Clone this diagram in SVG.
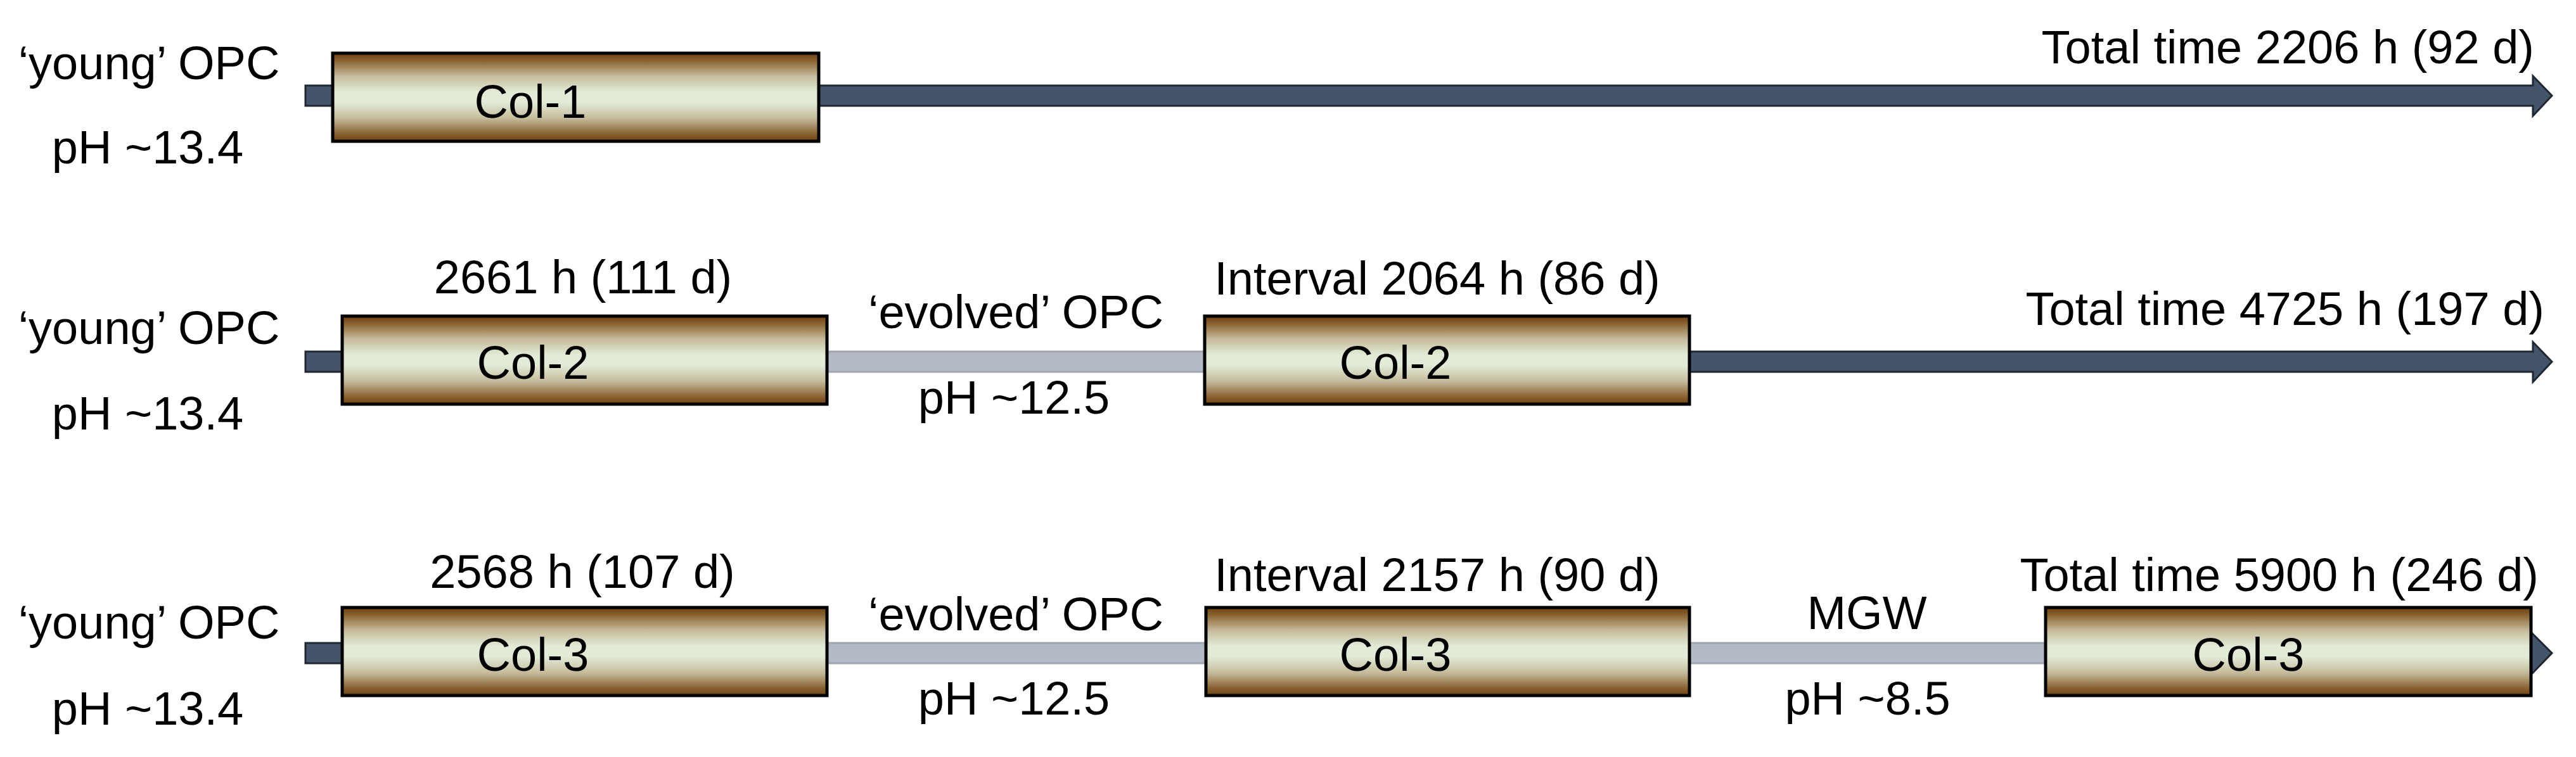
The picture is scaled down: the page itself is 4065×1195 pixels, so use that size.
<svg xmlns="http://www.w3.org/2000/svg" width="4065" height="1195" viewBox="0 0 4065 1195">
<defs>
<linearGradient id="colGrad" x1="0" y1="0" x2="0" y2="1">
<stop offset="0" stop-color="#6e4210"/>
<stop offset="0.08" stop-color="#87602e"/>
<stop offset="0.26" stop-color="#c6bb9b"/>
<stop offset="0.44" stop-color="#e1ebd7"/>
<stop offset="0.56" stop-color="#e1ebd7"/>
<stop offset="0.74" stop-color="#c6bb9b"/>
<stop offset="0.92" stop-color="#87602e"/>
<stop offset="1" stop-color="#6e4210"/>
</linearGradient>
</defs>
<style>
text{font-family:"Liberation Sans",Arial,sans-serif;font-size:74px;fill:#000}
.m{text-anchor:middle}
.e{text-anchor:end}
.col{fill:url(#colGrad);stroke:#000;stroke-width:5}
.dark{fill:#44546a;stroke:#1f2731;stroke-width:3}
.gray{fill:#b4bac4;stroke:#9fa5ae;stroke-width:3}
</style>
<rect width="4065" height="1195" fill="#fff"/>
<g id="connectors">
<path class="dark" d="M482,135 H3997 V120 L4027,151 L3997,183 V167 H482 Z"/>
<rect class="dark" x="482" y="555" width="70" height="32"/>
<rect class="gray" x="1300" y="555" width="605" height="32"/>
<path class="dark" d="M2660,555 H3997 V540 L4027,571 L3997,603 V587 H2660 Z"/>
<rect class="dark" x="482" y="1015" width="70" height="32"/>
<rect class="gray" x="1300" y="1015" width="608" height="32"/>
<rect class="gray" x="2660" y="1015" width="573" height="32"/>
<path class="dark" d="M3960,1000 L3996,1000 L4027,1031 L3996,1063 L3960,1063 Z"/>
</g>
<g id="row1-labels">
<text class="m" x="235" y="125">‘young’ OPC</text>
<text class="m" x="233" y="258">pH ~13.4</text>
<text class="e" x="3999" y="100">Total time 2206 h (92 d)</text>
</g>
<g id="col1"><rect class="col" x="525" y="84" width="767" height="139"/><text class="m" x="837" y="186">Col-1</text></g>
<g id="row2-labels">
<text class="m" x="235" y="543">‘young’ OPC</text>
<text class="m" x="233" y="678">pH ~13.4</text>
<text class="m" x="920" y="463">2661 h (111 d)</text>
<text class="m" x="1603" y="518">‘evolved’ OPC</text>
<text class="m" x="1600" y="653">pH ~12.5</text>
<text class="m" x="2268" y="465">Interval 2064 h (86 d)</text>
<text class="e" x="4015" y="513">Total time 4725 h (197 d)</text>
</g>
<g id="col2a"><rect class="col" x="540" y="499" width="765" height="139"/><text class="m" x="841" y="598">Col-2</text></g>
<g id="col2b"><rect class="col" x="1901" y="499" width="765" height="139"/><text class="m" x="2202" y="598">Col-2</text></g>
<g id="row3-labels">
<text class="m" x="235" y="1008">‘young’ OPC</text>
<text class="m" x="233" y="1144">pH ~13.4</text>
<text class="m" x="919" y="928">2568 h (107 d)</text>
<text class="m" x="1603" y="995">‘evolved’ OPC</text>
<text class="m" x="1600" y="1128">pH ~12.5</text>
<text class="m" x="2268" y="933">Interval 2157 h (90 d)</text>
<text class="m" x="2946" y="993">MGW</text>
<text class="m" x="2947" y="1128">pH ~8.5</text>
<text class="e" x="4006" y="933">Total time 5900 h (246 d)</text>
</g>
<g id="col3a"><rect class="col" x="540" y="959" width="765" height="139"/><text class="m" x="841" y="1059">Col-3</text></g>
<g id="col3b"><rect class="col" x="1903" y="959" width="763" height="139"/><text class="m" x="2202" y="1059">Col-3</text></g>
<g id="col3c"><rect class="col" x="3228" y="959" width="766" height="139"/><text class="m" x="3548" y="1059">Col-3</text></g>
</svg>
